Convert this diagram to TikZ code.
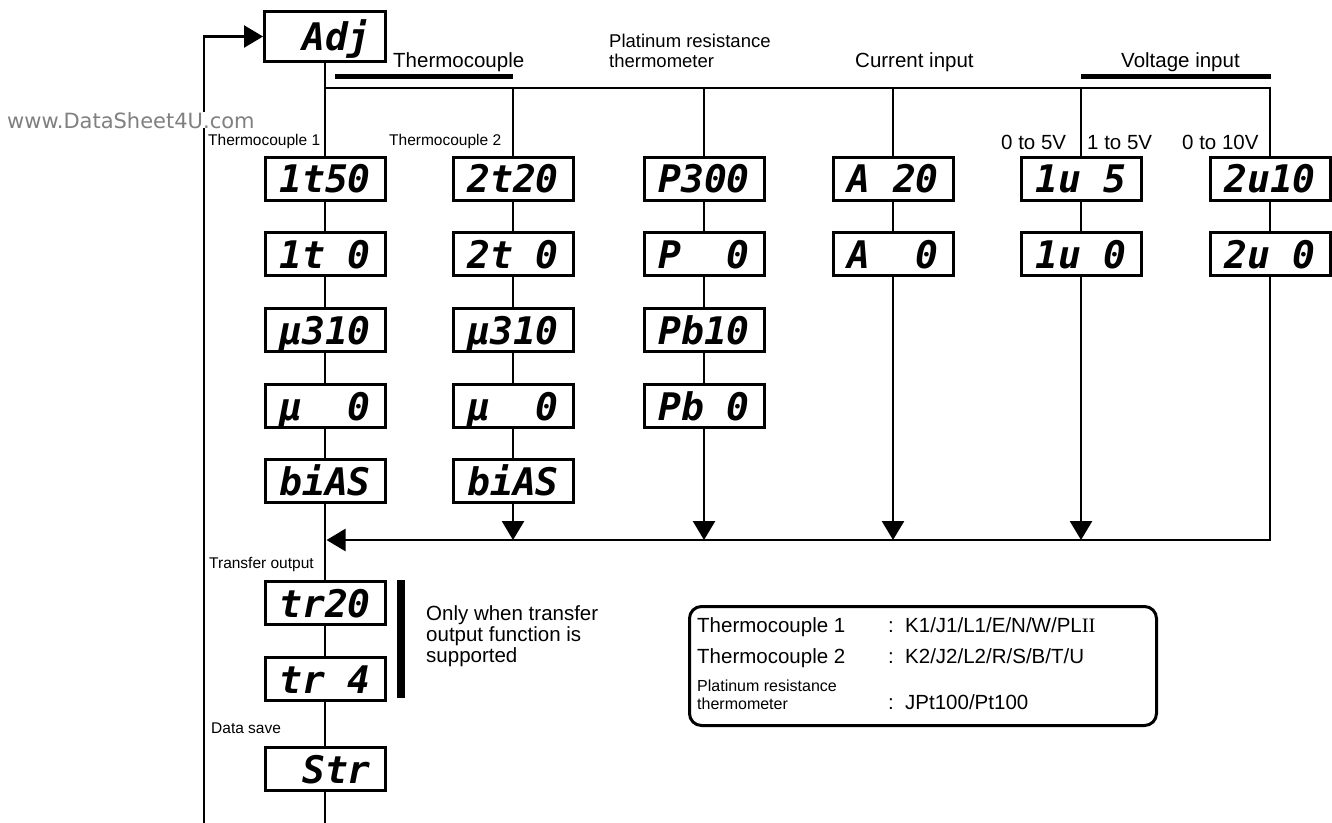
\documentclass[tikz,border=0pt]{standalone}
\usepackage{fontspec}
\setmainfont{Liberation Sans}
\newfontfamily\segfont{DejaVu Sans Mono}[UprightFont={* Bold Oblique}]
\newfontfamily\wmfont{DejaVu Sans}
\newfontfamily\romii{Liberation Serif}
\usetikzlibrary{arrows.meta}
\definecolor{wmgray}{gray}{0.5}
\tikzset{
  seg/.style={draw, line width=3pt, minimum width=120pt, minimum height=43pt, inner sep=0pt,
    font=\segfont\fontsize{38}{38}\selectfont, text height=28pt, text depth=0pt},
  conn/.style={line width=2.6pt},
  arr/.style={conn, -{Triangle[length=19pt 0,width=22pt 0]}},
  lab/.style={font=\fontsize{20.5}{21.5}\selectfont, inner sep=0pt, anchor=base west},
  plab/.style={font=\fontsize{18.5}{20}\selectfont, inner sep=0pt, anchor=base west},
  slab/.style={font=\fontsize{15.5}{16}\selectfont, inner sep=0pt, anchor=base west},
  llab/.style={font=\fontsize{16}{17}\selectfont, inner sep=0pt, anchor=base west},
  bar/.style={line width=5pt},
}
\begin{document}
\begin{tikzpicture}[x=1pt,y=-1pt]
\useasboundingbox (0,0) rectangle (1332,822);

% boxes
\node[seg, minimum width=121pt, minimum height=50pt] (adj) at (325,36.5) {~Adj};

\node[seg] (a1) at (325,178.5) {1t50};
\node[seg] (a2) at (325,254) {1t~0};
\node[seg] (a3) at (325,330) {μ310};
\node[seg] (a4) at (325,406) {μ~~0};
\node[seg] (a5) at (325,481) {biAS};

\node[seg] (b1) at (513,178.5) {2t20};
\node[seg] (b2) at (513,254) {2t~0};
\node[seg] (b3) at (513,330) {μ310};
\node[seg] (b4) at (513,406) {μ~~0};
\node[seg] (b5) at (513,481) {biAS};

\node[seg] (c1) at (704,178.5) {P300};
\node[seg] (c2) at (704,254) {P~~0};
\node[seg] (c3) at (704,330) {Pb10};
\node[seg] (c4) at (704,406) {Pb~0};

\node[seg] (d1) at (893,178.5) {A~20};
\node[seg] (d2) at (893,254) {A~~0};

\node[seg] (e1) at (1081,178.5) {1u~5};
\node[seg] (e2) at (1081,254) {1u~0};

\node[seg] (f1) at (1270,178.5) {2u10};
\node[seg] (f2) at (1270,254) {2u~0};

\node[seg] (tr1) at (325,603) {tr20};
\node[seg] (tr2) at (325,679) {tr~4};
\node[seg] (str) at (325,769) {~Str};

% coordinates
\coordinate (tj) at (325,88);
\coordinate (t2) at (513,88);
\coordinate (t3) at (704,88);
\coordinate (t4) at (893,88);
\coordinate (t5) at (1081,88);
\coordinate (t6) at (1270,88);
\coordinate (bj) at (326.5,540);
\coordinate (bottom) at (325,824);
\coordinate (loopbot) at (204,824);

% top bus
\draw[conn] (adj.south) -- (a1.north);
\draw[conn] (tj) -- (t6) -- (f1.north);
\draw[conn] (t2) -- (b1.north);
\draw[conn] (t3) -- (c1.north);
\draw[conn] (t4) -- (d1.north);
\draw[conn] (t5) -- (e1.north);

% stacks
\draw[conn] (a1) -- (a2); \draw[conn] (a2) -- (a3); \draw[conn] (a3) -- (a4); \draw[conn] (a4) -- (a5);
\draw[conn] (b1) -- (b2); \draw[conn] (b2) -- (b3); \draw[conn] (b3) -- (b4); \draw[conn] (b4) -- (b5);
\draw[conn] (c1) -- (c2); \draw[conn] (c2) -- (c3); \draw[conn] (c3) -- (c4);
\draw[conn] (d1) -- (d2);
\draw[conn] (e1) -- (e2);
\draw[conn] (f1) -- (f2);

% bottom bus
\draw[arr] (f2.south) |- (bj);
\draw[arr] (b5.south) -- (b5.south |- bj);
\draw[arr] (c4.south) -- (c4.south |- bj);
\draw[arr] (d2.south) -- (d2.south |- bj);
\draw[arr] (e2.south) -- (e2.south |- bj);

% main column below
\draw[conn] (a5) -- (tr1);
\draw[conn] (tr1) -- (tr2);
\draw[conn] (tr2) -- (str);
\draw[conn] (str.south) -- (bottom);

% loop
\draw[arr] (loopbot) |- (adj.west);

% thick bars
\draw[bar] (335,76) -- (513,76);
\draw[bar] (1081,76) -- (1271,76);
\draw[line width=8pt] (401,580) -- (401,698);

% headings
\node[lab] (hth) at (393,67) {Thermocouple};
\node[plab] (hpt1) at (609,47) {Platinum resistance};
\node[plab] (hpt2) at (609,67) {thermometer};
\node[lab] (hcur) at (855,67) {Current input};
\node[lab] (hvol) at (1121,67) {Voltage input};

% small labels
\node[slab] (ltc1) at (208,145) {Thermocouple 1};
\node[slab] (ltc2) at (389,145) {Thermocouple 2};
\node[lab] (lv1) at (1001,149) {0 to 5V};
\node[lab] (lv2) at (1087,149) {1 to 5V};
\node[lab] (lv3) at (1182,149) {0 to 10V};
\node[slab] (ltr) at (209,568) {Transfer output};
\node[slab] (lds) at (211,733) {Data save};

\node[lab] (on1) at (426,620) {Only when transfer};
\node[lab] (on2) at (426,641) {output function is};
\node[lab] (on3) at (426,662) {supported};

% legend
\node[draw, line width=3pt, rounded corners=12pt, minimum width=467pt, minimum height=119pt, inner sep=0pt] (legend) at (923,666) {};
\node[lab] (g1) at (697,632) {Thermocouple 1};
\node[lab] (g1c) at (888,632) {:};
\node[lab] (g1v) at (905,632) {K1/J1/L1/E/N/W/PL{\romii II}};
\node[lab] (g2) at (697,663) {Thermocouple 2};
\node[lab] (g2c) at (888,663) {:};
\node[lab] (g2v) at (905,663) {K2/J2/L2/R/S/B/T/U};
\node[llab] (g3a) at (697,691) {Platinum resistance};
\node[llab] (g3b) at (697,709) {thermometer};
\node[lab] (g3c) at (888,709) {:};
\node[lab] (g3v) at (905,709) {JPt100/Pt100};

% watermark
\node[font=\wmfont\fontsize{21}{21}\selectfont, text=wmgray, fill=white, inner sep=0pt, anchor=base west] (wm) at (7,128) {www.DataSheet4U.com};
\end{tikzpicture}
\end{document}
